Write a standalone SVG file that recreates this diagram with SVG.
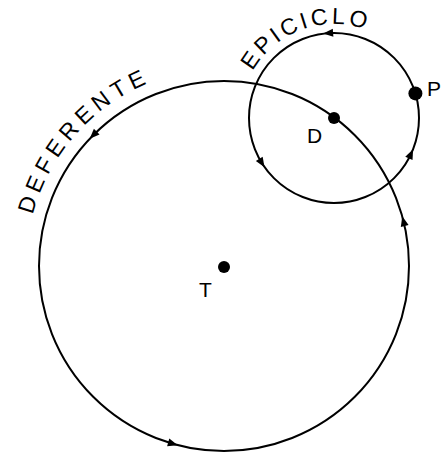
<svg xmlns="http://www.w3.org/2000/svg" xmlns:xlink="http://www.w3.org/1999/xlink" width="441" height="455" viewBox="0 0 441 455">
<style>
.orbit{fill:none;stroke:#000;stroke-width:2}
.dot{fill:#000}
.lbl{font-family:"Liberation Sans","DejaVu Sans",sans-serif;font-size:21px;fill:#000}
.curv{font-family:"Liberation Sans","DejaVu Sans",sans-serif;font-size:23px;fill:#000}
</style>
<defs>
<path id="arr" d="M5,0 L-5,-4 L-5,4 Z" fill="#000"/>
<path id="epiText" d="M252.6,71 A94,94 0 0 1 369.2,30.8" fill="none"/>
<path id="defText" d="M32.7,214.8 A198,198 0 0 1 153,81.1" fill="none"/>
</defs>
<rect width="441" height="455" fill="#fff"/>
<g id="connectors">
<circle id="deferente-orbit" class="orbit" cx="224" cy="266" r="185"/>
<circle id="epiciclo-orbit" class="orbit" cx="334" cy="118" r="85"/>
<use xlink:href="#arr" transform="translate(328.1,33.2) rotate(-184)"/>
<use xlink:href="#arr" transform="translate(261.9,163) rotate(58)"/>
<use xlink:href="#arr" transform="translate(411,153.9) rotate(-65)"/>
<use xlink:href="#arr" transform="translate(93.2,135.2) rotate(135)"/>
<use xlink:href="#arr" transform="translate(173,443.8) rotate(16)"/>
<use xlink:href="#arr" transform="translate(403.5,221.2) rotate(-104)"/>
</g>
<g id="label-epiciclo">
<text class="curv"><textPath xlink:href="#epiText" textLength="130" lengthAdjust="spacing">EPICICLO</textPath></text>
</g>
<g id="label-deferente">
<text class="curv"><textPath xlink:href="#defText" textLength="180" lengthAdjust="spacing">DEFERENTE</textPath></text>
</g>
<g id="node-T">
<circle class="dot" cx="224" cy="267" r="6"/>
<text class="lbl" x="199" y="297">T</text>
</g>
<g id="node-D">
<circle class="dot" cx="334" cy="118" r="6"/>
<text class="lbl" x="307" y="143">D</text>
</g>
<g id="node-P">
<circle class="dot" cx="415.4" cy="93.4" r="7"/>
<text class="lbl" x="427" y="96">P</text>
</g>
</svg>
